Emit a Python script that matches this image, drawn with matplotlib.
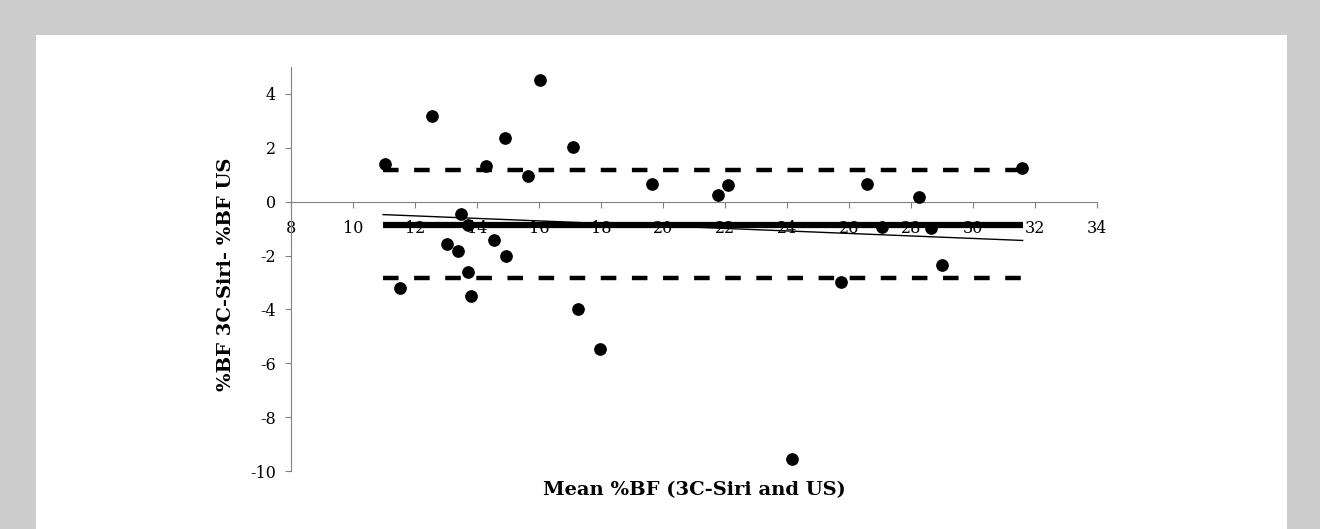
import matplotlib
matplotlib.use("Agg")
import matplotlib.pyplot as plt
from matplotlib.patches import Rectangle

plt.rcParams["axes.unicode_minus"] = False

# Bland-Altman data: mean %BF vs difference (3C-Siri - US)
mean_bf = [11.03, 12.54, 16.03, 14.91, 17.10, 14.28, 15.65, 13.47, 13.72, 13.04,
           13.40, 14.55, 14.92, 13.72, 11.51, 13.80, 17.25, 17.96, 19.63, 21.76,
           22.09, 26.57, 28.27, 31.59, 27.05, 28.65, 29.01, 25.74, 24.16]
diff_bf = [1.41, 3.17, 4.50, 2.37, 2.02, 1.31, 0.97, -0.47, -0.88, -1.57,
           -1.83, -1.43, -2.02, -2.60, -3.22, -3.52, -3.98, -5.46, 0.64, 0.25,
           0.61, 0.67, 0.16, 1.24, -0.94, -0.98, -2.35, -2.99, -9.55]

line_x = [10.97, 31.6]
mean_diff = [-0.86, -0.86]
upper_loa = [1.17, 1.17]
lower_loa = [-2.85, -2.85]
trend_y = [-0.48, -1.44]

W, H = 1320, 529
fig = plt.figure(figsize=(W / 100, H / 100), dpi=100, facecolor="#cccccc")
fig.patches.append(Rectangle((36 / W, 0), (1287 - 36) / W, (529 - 35) / H,
                             transform=fig.transFigure, facecolor="white",
                             edgecolor="none", zorder=-5))

ax = fig.add_axes([291 / W, (H - 471) / H, (1097 - 291) / W, (471 - 67) / H])
ax.set_facecolor("none")
ax.set_zorder(2)

ax.scatter(mean_bf, diff_bf, s=66, color="black", zorder=3)
ax.plot(line_x, mean_diff, color="black", lw=4.5, solid_capstyle="butt", zorder=4)
ax.plot(line_x, upper_loa, color="black", lw=3.2, dashes=(3.5, 3.5), zorder=4)
ax.plot(line_x, lower_loa, color="black", lw=3.2, dashes=(3.5, 3.5), zorder=4)
ax.plot(line_x, trend_y, color="black", lw=1, zorder=4)

ax.set_xlim(8, 34)
ax.set_ylim(-10, 5)
ax.set_xticks(range(8, 35, 2))
ax.set_yticks(range(-10, 5, 2))

axis_col = "#808080"
for s in ("top", "right"):
    ax.spines[s].set_visible(False)
ax.spines["bottom"].set_position(("data", 0))
ax.spines["left"].set_color(axis_col)
ax.spines["bottom"].set_color(axis_col)
ax.tick_params(axis="both", colors=axis_col, labelcolor="black",
               labelsize=11.5, direction="out", length=4)
ax.tick_params(axis="x", pad=9)
ax.tick_params(axis="y", pad=7)
for lbl in ax.get_xticklabels() + ax.get_yticklabels():
    lbl.set_family("DejaVu Serif")

fig.text(694 / W, 1 - 490 / H, "Mean %BF (3C-Siri and US)", ha="center",
         va="center", fontsize=14, fontweight="bold", family="DejaVu Serif")
fig.text(226 / W, 1 - 274 / H, "%BF 3C-Siri- %BF US", ha="center",
         va="center", rotation=90, fontsize=14, fontweight="bold",
         family="DejaVu Serif")

fig.savefig("out.png", dpi=100, facecolor=fig.get_facecolor())
